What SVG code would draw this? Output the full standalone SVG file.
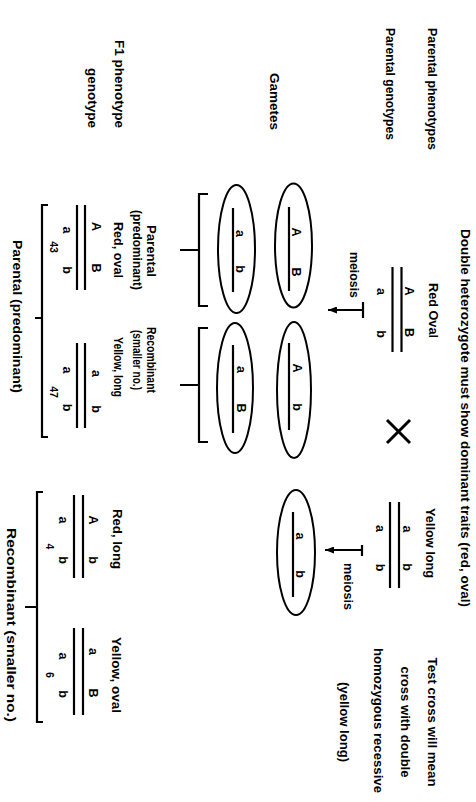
<svg xmlns="http://www.w3.org/2000/svg" width="476" height="802" viewBox="0 0 476 802">
<defs>
<style>
text{font-family:"Liberation Sans",Arial,sans-serif;fill:#000;font-weight:bold}
.l{font-size:13px}
.m{font-size:12.5px}
.g{font-size:12.5px;text-anchor:middle}
.n{font-size:10.5px;text-anchor:middle}
.k{stroke:#000;stroke-width:2.2;fill:none}
.e{stroke:#000;stroke-width:2;fill:none}
.x{stroke:#000;stroke-width:3;fill:none}
</style>
<marker id="ah" markerWidth="9" markerHeight="7" refX="9" refY="3.5" orient="auto" markerUnits="userSpaceOnUse"><path d="M0,0 L9,3.5 L0,7 z" fill="#000"/></marker>
</defs>
<rect width="476" height="802" fill="#fff"/>
<g transform="translate(476,0) rotate(90)">
<g id="labels">
<text class="l" x="229" y="15" textLength="378" lengthAdjust="spacingAndGlyphs">Double heterozygote must show dominant traits (red, oval)</text>
<text class="l" x="28" y="48" textLength="122" lengthAdjust="spacingAndGlyphs">Parental phenotypes</text>
<text class="l" x="28" y="90" textLength="112" lengthAdjust="spacingAndGlyphs">Parental genotypes</text>
<text class="l" x="73" y="206" textLength="57" lengthAdjust="spacingAndGlyphs">Gametes</text>
<text class="l" x="40" y="361" textLength="88" lengthAdjust="spacingAndGlyphs">F1 phenotype</text>
<text class="l" x="68" y="388" textLength="60" lengthAdjust="spacingAndGlyphs">genotype</text>
<text class="l" x="657.5" y="48" textLength="129" lengthAdjust="spacingAndGlyphs">Test cross will mean</text>
<text class="l" x="666.5" y="75" textLength="111" lengthAdjust="spacingAndGlyphs">cross with double</text>
<text class="l" x="648" y="102" textLength="145" lengthAdjust="spacingAndGlyphs">homozygous recessive</text>
<text class="l" x="682" y="136" textLength="80" lengthAdjust="spacingAndGlyphs">(yellow long)</text>
</g>
<g id="parent1">
<text class="l" x="283" y="47" textLength="55" lengthAdjust="spacingAndGlyphs">Red Oval</text>
<text class="g" x="291" y="71">A</text><text class="g" x="332.5" y="71">B</text>
<line class="k" x1="267" y1="74.5" x2="352" y2="74.5"/>
<line class="k" x1="267" y1="83.5" x2="352" y2="83.5"/>
<text class="g" x="291.5" y="99">a</text><text class="g" x="334" y="99">b</text>
</g>
<g id="cross">
<line class="x" x1="420" y1="66" x2="443" y2="89"/>
<line class="x" x1="420" y1="89" x2="443" y2="66"/>
</g>
<g id="parent2">
<text class="l" x="508" y="50" textLength="70" lengthAdjust="spacingAndGlyphs">Yellow long</text>
<text class="g" x="529" y="73">a</text><text class="g" x="567" y="73">b</text>
<line class="k" x1="502" y1="77" x2="588" y2="77"/>
<line class="k" x1="502" y1="86" x2="588" y2="86"/>
<text class="g" x="528.5" y="100">a</text><text class="g" x="567.5" y="100">b</text>
</g>
<g id="gamete-AB">
<ellipse class="e" cx="245.5" cy="182.5" rx="62" ry="18.5"/>
<line class="k" x1="207" y1="187" x2="291" y2="187"/>
<text class="g" x="232" y="184">A</text><text class="g" x="272" y="184">B</text>
</g>
<g id="gamete-ab1">
<ellipse class="e" cx="249" cy="239.5" rx="64" ry="18.5"/>
<line class="k" x1="208" y1="243" x2="292" y2="243"/>
<text class="g" x="233.5" y="240">a</text><text class="g" x="269" y="240">b</text>
</g>
<g id="gamete-Ab">
<ellipse class="e" cx="390" cy="182" rx="68" ry="17"/>
<line class="k" x1="343" y1="187" x2="430" y2="187"/>
<text class="g" x="368" y="183">A</text><text class="g" x="407" y="183">b</text>
</g>
<g id="gamete-aB">
<ellipse class="e" cx="388" cy="241" rx="65" ry="18"/>
<line class="k" x1="345" y1="243" x2="433" y2="243"/>
<text class="g" x="369.5" y="239">a</text><text class="g" x="408" y="239">B</text>
</g>
<g id="gamete-ab2">
<ellipse class="e" cx="552.5" cy="180" rx="62.5" ry="19"/>
<line class="k" x1="512" y1="183" x2="597" y2="183"/>
<text class="g" x="536" y="180">a</text><text class="g" x="574" y="180">b</text>
</g>
<g id="class-labels">
<text class="m" x="225" y="329" textLength="52" lengthAdjust="spacingAndGlyphs">Parental</text>
<text class="m" x="210" y="343" textLength="80" lengthAdjust="spacingAndGlyphs">(predominant)</text>
<text class="m" x="327" y="329" textLength="66" lengthAdjust="spacingAndGlyphs">Recombinant</text>
<text class="m" x="330" y="343" textLength="60" lengthAdjust="spacingAndGlyphs">(smaller no.)</text>
<text class="l" x="240" y="463" textLength="153" lengthAdjust="spacingAndGlyphs">Parental (predominant)</text>
<text class="l" x="528" y="469" textLength="194" lengthAdjust="spacingAndGlyphs">Recombinant (smaller no.)</text>
</g>
<g id="f1-ABab">
<text class="m" x="222" y="362" textLength="56" lengthAdjust="spacingAndGlyphs">Red, oval</text>
<text class="g" x="226.5" y="384">A</text><text class="g" x="268" y="384">B</text>
<line class="k" x1="205" y1="391" x2="290" y2="391"/>
<line class="k" x1="205" y1="399" x2="290" y2="399"/>
<text class="g" x="230" y="413">a</text><text class="g" x="270" y="413">b</text>
<text class="n" x="247" y="426">43</text>
</g>
<g id="f1-abab">
<text class="m" x="337" y="362" textLength="60" lengthAdjust="spacingAndGlyphs">Yellow, long</text>
<text class="g" x="373.5" y="384">a</text><text class="g" x="409" y="384">b</text>
<line class="k" x1="343" y1="391" x2="428" y2="391"/>
<line class="k" x1="343" y1="399" x2="428" y2="399"/>
<text class="g" x="370" y="413">a</text><text class="g" x="407.5" y="413">b</text>
<text class="n" x="392" y="426">47</text>
</g>
<g id="f1-Abab">
<text class="m" x="509" y="363" textLength="60" lengthAdjust="spacingAndGlyphs">Red, long</text>
<text class="g" x="520" y="387">A</text><text class="g" x="560" y="387">b</text>
<line class="k" x1="495" y1="393" x2="578" y2="393"/>
<line class="k" x1="495" y1="402" x2="578" y2="402"/>
<text class="g" x="520" y="417">a</text><text class="g" x="560" y="417">b</text>
<text class="n" x="546.5" y="430">4</text>
</g>
<g id="f1-aBab">
<text class="m" x="637" y="364" textLength="76" lengthAdjust="spacingAndGlyphs">Yellow, oval</text>
<text class="g" x="651.5" y="387">a</text><text class="g" x="693" y="387">B</text>
<line class="k" x1="628" y1="393" x2="715" y2="393"/>
<line class="k" x1="628" y1="402" x2="715" y2="402"/>
<text class="g" x="656" y="417">a</text><text class="g" x="694" y="417">b</text>
<text class="n" x="675" y="430">6</text>
</g>
<g id="connectors">
<text class="m" x="252" y="126" textLength="46" lengthAdjust="spacingAndGlyphs">meiosis</text>
<line class="k" x1="302" y1="113" x2="318" y2="113"/>
<line class="k" x1="310" y1="113" x2="310" y2="148" stroke-width="2.5" marker-end="url(#ah)"/>
<text class="m" x="563" y="132" textLength="47" lengthAdjust="spacingAndGlyphs">meiosis</text>
<line class="k" x1="545" y1="114" x2="556" y2="114"/>
<line class="k" x1="550" y1="114" x2="550" y2="151" stroke-width="2.5" marker-end="url(#ah)"/>
<path class="k" d="M194,268 L194,277 L306,277 L306,268 M250,277 L250,296"/>
<path class="k" d="M328,268 L328,277 L442,277 L442,268 M385,277 L385,296"/>
<path class="k" d="M205,428 L205,434 L437,434 L437,428 M318,434 L318,441"/>
<path class="k" d="M492,433 L492,439 L722,439 L722,433 M607,439 L607,451"/>
</g>
</g>
</svg>
